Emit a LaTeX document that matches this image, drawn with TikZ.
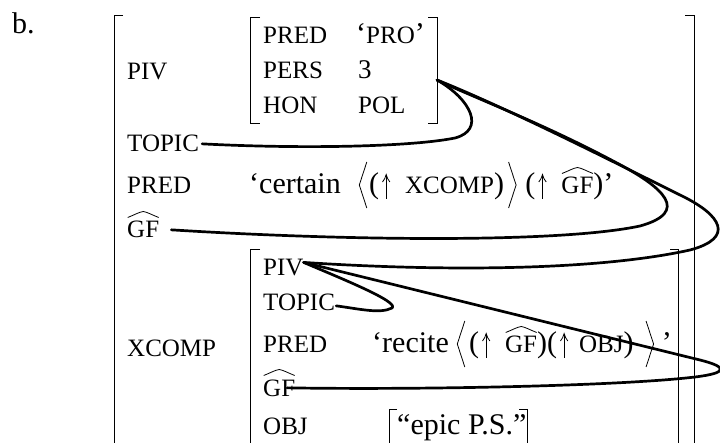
\documentclass[tikz,border=0pt]{standalone}
\usepackage{fontspec}
\setmainfont{Liberation Serif}
\newcommand\lbf{\fontsize{25}{27}\selectfont}
\newcommand\vlf{\fontsize{30}{32}\selectfont}
\newcommand\hatgf{\tikz[baseline=0pt,x=1pt,y=1pt]{\path (0,0); \draw[overlay,line width=0.8pt] (0.5,20.5) .. controls (7,23) and (12,26) .. (16,26.5) .. controls (20,26) and (25,23) .. (31.5,20.5);}{\lbf GF}}
\newcommand\angl{\tikz[baseline=0pt,x=1pt,y=1pt]{\path (0,0) (8,0); \draw[line width=0.8pt] (8,32) -- (0.5,9) -- (8,-14);}}
\newcommand\angr{\tikz[baseline=0pt,x=1pt,y=1pt]{\path (0,0) (8,0); \draw[line width=0.8pt] (0.5,32) -- (8,9) -- (0.5,-14);}}
\newcommand\uparr{\tikz[baseline=0pt,x=1pt,y=1pt]{\path (0,0) (14,0); \draw[line width=0.8pt] (7,-5) -- (7,19); \draw[line width=0.8pt] (3.3,12) .. controls (5,14) and (6.3,16.5) .. (7,19.5) .. controls (7.7,16.5) and (9,14) .. (10.7,12);}}
\tikzset{
  lab/.style={inner sep=0pt, anchor=base west, font=\lbf},
  val/.style={inner sep=0pt, anchor=base west, font=\vlf},
  conn/.style={line width=2.7pt, line cap=round, line join=round},
  brk/.style={line width=0.9pt}
}
\begin{document}
\begin{tikzpicture}[x=1pt,y=-1pt]
\useasboundingbox (0,0) rectangle (720,443);
\node[val] (lbl) at (12,34) {b.};
% outer brackets
\draw[brk] (123,15) -- (114,15) -- (114,450);
\draw[brk] (685,15) -- (694,15) -- (694,450);
% inner PIV brackets
\draw[brk] (260,17) -- (250,17) -- (250,123) -- (260,123);
\draw[brk] (428,17) -- (437,17) -- (437,123) -- (428,123);
% XCOMP brackets
\draw[brk] (260,249) -- (250,249) -- (250,450);
\draw[brk] (670,249) -- (678,249) -- (678,450);
% OBJ brackets
\draw[brk] (397,409) -- (389,409) -- (389,450);
\draw[brk] (519,409) -- (527,409) -- (527,450);
% outer labels
\node[lab] (piva) at (127,80) {PIV};
\node[lab] (tpa) at (127,152) {TOPIC};
\node[lab] (pra) at (127,194) {PRED};
\node[lab] (gfa) at (127,238) {\hatgf};
\node[lab] (xc) at (127,356) {XCOMP};
% inner PIV
\node[lab] (prp) at (263,44) {PRED};
\node[lab] (pep) at (263,79) {PERS};
\node[lab] (hop) at (263,114) {HON};
\node[val] (pro) at (356,44) {‘{\lbf PRO}’};
\node[val,font=\fontsize{27}{29}\selectfont] (three) at (358,79) {3};
\node[lab] (pol) at (358,114) {POL};
% outer PRED value
\node[val] (cert) at (249,194) {‘certain\hspace{18pt}\angl\hspace{2pt}(\uparr\hspace{12pt}{\lbf XCOMP})\hspace{4pt}\angr\hspace{9pt}(\uparr\hspace{12pt}\hatgf)’};
% XCOMP inner
\node[lab] (pivb) at (263,276) {PIV};
\node[lab] (tpb) at (263,311) {TOPIC};
\node[lab] (prb) at (263,353) {PRED};
\node[lab] (gfb) at (263,396) {\hatgf};
\node[lab] (obj) at (263,434) {OBJ};
\node[val] (rec) at (372,353) {‘recite\hspace{8pt}\angl\hspace{4pt}(\uparr\hspace{12pt}\hatgf)(\uparr\hspace{8pt}{\lbf OBJ})\hspace{12pt}\angr\hspace{8pt}’};
\node[val] (epic) at (397,434) {“epic P.S.”};
% connector endpoints
\coordinate (pers) at (437,80);
\coordinate (t1) at ([xshift=3pt]tpa.east);
\coordinate (g1) at ([xshift=12pt]gfa.east);
\coordinate (p2) at ([yshift=-3pt]pivb.north east);
\coordinate (t2) at ([xshift=1pt,yshift=-3pt]tpb.east);
\coordinate (g2) at ([xshift=-8pt]gfb.east);
% connectors
\draw[conn] (t1) .. controls (300,149) and (410,147) .. (455,138) .. controls (485,130) and (472,100) .. (pers);
\draw[conn] (g1) .. controls (350,241) and (560,243) .. (640,226) .. controls (690,212) and (665,188) .. (615,162) .. controls (540,122) and (470,96) .. (pers);
\draw[conn] (p2) .. controls (450,272) and (600,270) .. (690,250) .. controls (735,238) and (722,215) .. (680,195) .. controls (600,155) and (500,105) .. (pers);
\draw[conn] (t2) .. controls (360,309) and (380,314) .. (392,308) .. controls (400,302) and (340,278) .. (p2);
\draw[conn] (g2) .. controls (420,390) and (620,386) .. (695,377) .. controls (728,373) and (728,367) .. (700,360) -- (p2);
\end{tikzpicture}
\end{document}
